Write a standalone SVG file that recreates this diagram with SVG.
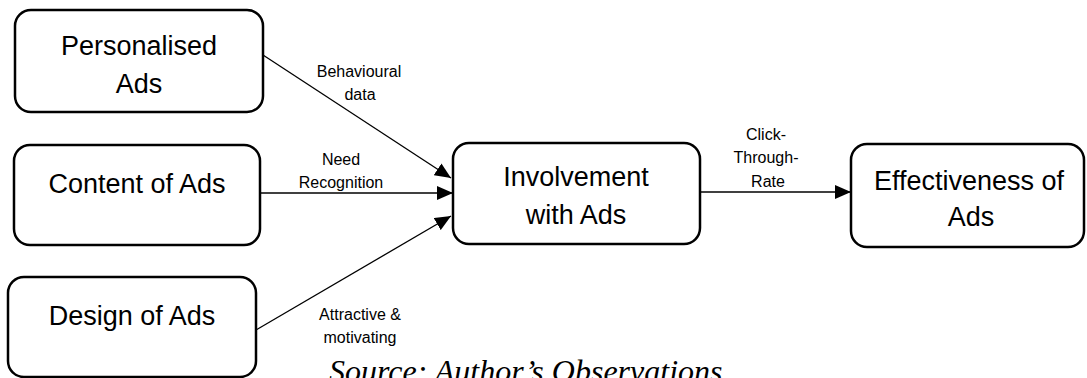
<svg xmlns="http://www.w3.org/2000/svg" width="1087" height="378" viewBox="0 0 1087 378">
<style>
.box{fill:#fff;stroke:#000;stroke-width:2.5}
.big{font-family:"Liberation Sans",Arial,sans-serif;font-size:27px;fill:#000;text-anchor:middle}
.lbl{font-family:"Liberation Sans",Arial,sans-serif;font-size:16px;fill:#000;text-anchor:middle}
.conn{stroke:#000;stroke-width:1.3;fill:none;marker-end:url(#ah)}
.src{font-family:"Liberation Serif","Times New Roman",serif;font-style:italic;font-size:32px;fill:#000}
</style>
<defs>
<marker id="ah" markerUnits="userSpaceOnUse" markerWidth="16" markerHeight="14" refX="16" refY="7" orient="auto">
<path d="M0,0 L16,7 L0,14 z" fill="#000"/>
</marker>
</defs>
<rect width="1087" height="378" fill="#fff"/>
<g id="connectors">
<line class="conn" x1="263" y1="55" x2="451" y2="178"/>
<line class="conn" x1="260" y1="193" x2="453" y2="193"/>
<line class="conn" x1="256" y1="330" x2="451" y2="216"/>
<line class="conn" x1="700" y1="192" x2="851" y2="192"/>
<text class="lbl" x="359" y="77">Behavioural</text>
<text class="lbl" x="360" y="100">data</text>
<text class="lbl" x="341" y="165">Need</text>
<text class="lbl" x="341" y="188">Recognition</text>
<text class="lbl" x="360" y="320">Attractive &amp;</text>
<text class="lbl" x="360" y="343">motivating</text>
<text class="lbl" x="766" y="140">Click-</text>
<text class="lbl" x="766" y="163">Through-</text>
<text class="lbl" x="768" y="187">Rate</text>
</g>
<g id="personalised">
<rect class="box" x="15" y="10" width="248" height="102" rx="16"/>
<text class="big" x="139" y="55">Personalised</text>
<text class="big" x="139" y="93">Ads</text>
</g>
<g id="content">
<rect class="box" x="14" y="145" width="246" height="100" rx="16"/>
<text class="big" x="137" y="193">Content of Ads</text>
</g>
<g id="design">
<rect class="box" x="8" y="277" width="248" height="100" rx="16"/>
<text class="big" x="132" y="325">Design of Ads</text>
</g>
<g id="involvement">
<rect class="box" x="453" y="143" width="247" height="101" rx="16"/>
<text class="big" x="576" y="186">Involvement</text>
<text class="big" x="576" y="224">with Ads</text>
</g>
<g id="effectiveness">
<rect class="box" x="851" y="144" width="233" height="103" rx="16"/>
<text class="big" x="969" y="190">Effectiveness of</text>
<text class="big" x="971" y="226">Ads</text>
</g>
<text class="src" x="329" y="382">Source: Author’s Observations</text>
</svg>
